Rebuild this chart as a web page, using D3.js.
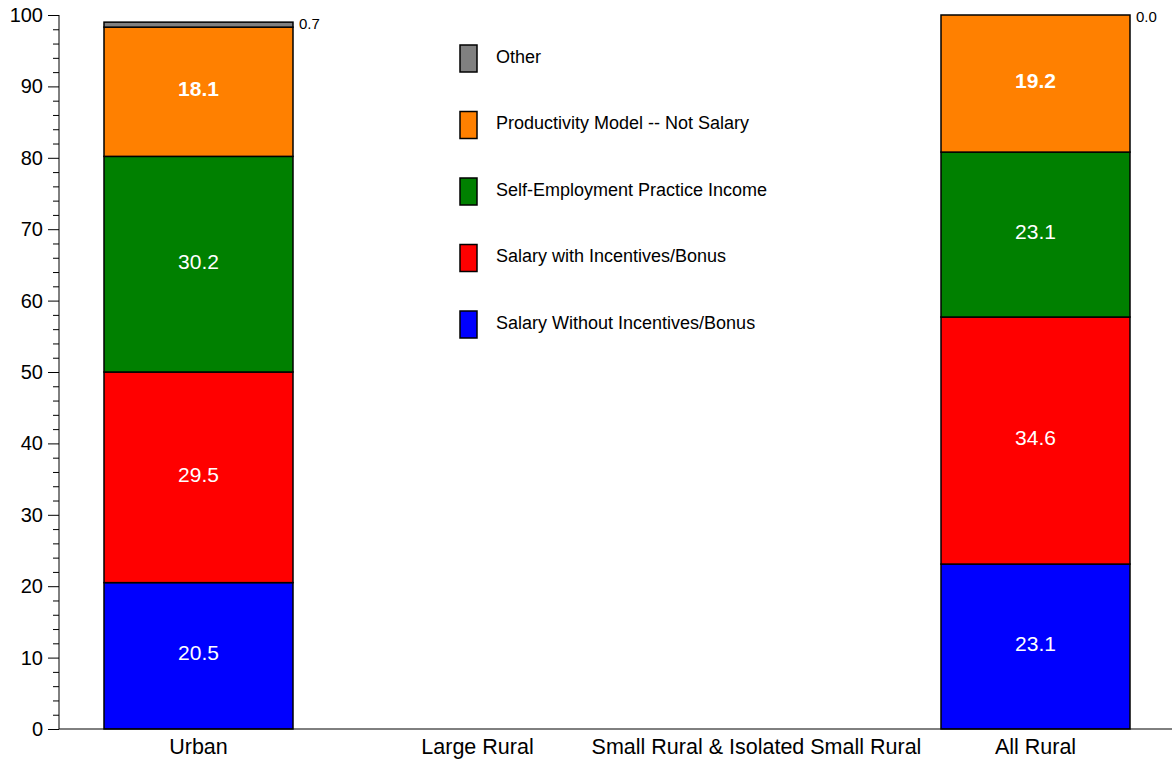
<!DOCTYPE html>
<html><head><meta charset="utf-8">
<script src="https://cdn.jsdelivr.net/npm/d3@7"></script>
<style>body{margin:0;background:#fff;}svg{display:block;font-family:"Liberation Sans",Arial,Helvetica,sans-serif;}</style>
</head><body><svg id="c" width="1172" height="761"></svg>
<script>
const categories = ["Urban","Large Rural","Small Rural & Isolated Small Rural","All Rural"];
const seriesNames = ["Salary Without Incentives/Bonus","Salary with Incentives/Bonus","Self-Employment Practice Income","Productivity Model -- Not Salary","Other"];
const seriesColors = ["#0000ff","#ff0000","#008000","#ff8000","#808080"];
const salaryWithout = [20.5, null, null, 23.1];
const salaryWith = [29.5, null, null, 34.6];
const selfEmployment = [30.2, null, null, 23.1];
const productivity = [18.1, null, null, 19.2];
const other = [0.7, null, null, 0.0];
const boldSeries = [false,false,false,true,false];
const yTicks = [0,10,20,30,40,50,60,70,80,90,100];

const allSeries = [salaryWithout, salaryWith, selfEmployment, productivity, other];
const svg = d3.select("#c");
const x = d3.scaleBand().domain(categories).range([59,1175]).paddingInner(0.3226).paddingOuter(0.1613);
const y = d3.scaleLinear().domain([0,100]).range([729,15]);

// y axis
const yAxis = d3.axisLeft(y).tickValues(d3.range(0,101,2)).tickSize(6)
  .tickFormat(d => yTicks.includes(d) ? d : "");
const gy = svg.append("g").attr("transform","translate(59,0)").call(yAxis);
gy.selectAll(".tick line").attr("x2", d => yTicks.includes(d) ? -11 : -6).attr("stroke","#000");
gy.selectAll(".tick text").attr("x",-16).attr("font-size",20).attr("font-family","Liberation Sans, Arial, sans-serif").attr("fill","#000");
gy.select(".domain").attr("d","M0,729V15").attr("stroke","#000");

// bars
categories.forEach((cat, i) => {
  let cum = 0;
  allSeries.forEach((s, k) => {
    const v = s[i];
    if (v === null || v === undefined) return;
    const y0 = cum, y1 = cum + v;
    cum = y1;
    svg.append("rect").attr("x", x(cat)).attr("width", x.bandwidth())
      .attr("y", y(y1)).attr("height", Math.max(0, y(y0) - y(y1)))
      .attr("fill", seriesColors[k]).attr("stroke","#000").attr("stroke-width",1.5);
    if (k < 4) {
      svg.append("text").attr("x", x(cat) + x.bandwidth()/2).attr("y", y((y0+y1)/2) - 3)
        .attr("dy","0.35em").attr("text-anchor","middle").attr("font-size",21)
        .attr("font-weight", boldSeries[k] ? "bold" : "normal").attr("fill","#fff")
        .text(v.toFixed(1));
    } else {
      svg.append("text").attr("x", x(cat) + x.bandwidth() + 6).attr("y", y(y1) + 2)
        .attr("dy","0.35em").attr("font-size",15).attr("fill","#000").text(v.toFixed(1));
    }
  });
});

// x axis
const gx = svg.append("g").attr("transform","translate(0,729)").call(d3.axisBottom(x).tickSize(0).tickPadding(10));
gx.select(".domain").attr("d","M59,0H1172").attr("stroke","#000");
gx.selectAll(".tick text").attr("font-size",21.5).attr("font-family","Liberation Sans, Arial, sans-serif").attr("fill","#000");

// legend
const legendOrder = [4,3,2,1,0];
legendOrder.forEach((k, j) => {
  const ly = 58.5 + j*66.5;
  svg.append("rect").attr("x",460).attr("y",ly-13.5).attr("width",17).attr("height",27)
    .attr("fill",seriesColors[k]).attr("stroke","#000").attr("stroke-width",1.5);
  svg.append("text").attr("x",496).attr("y",ly - 2).attr("dy","0.35em").attr("font-size",18).attr("fill","#000").text(seriesNames[k]);
});
</script></body></html>
